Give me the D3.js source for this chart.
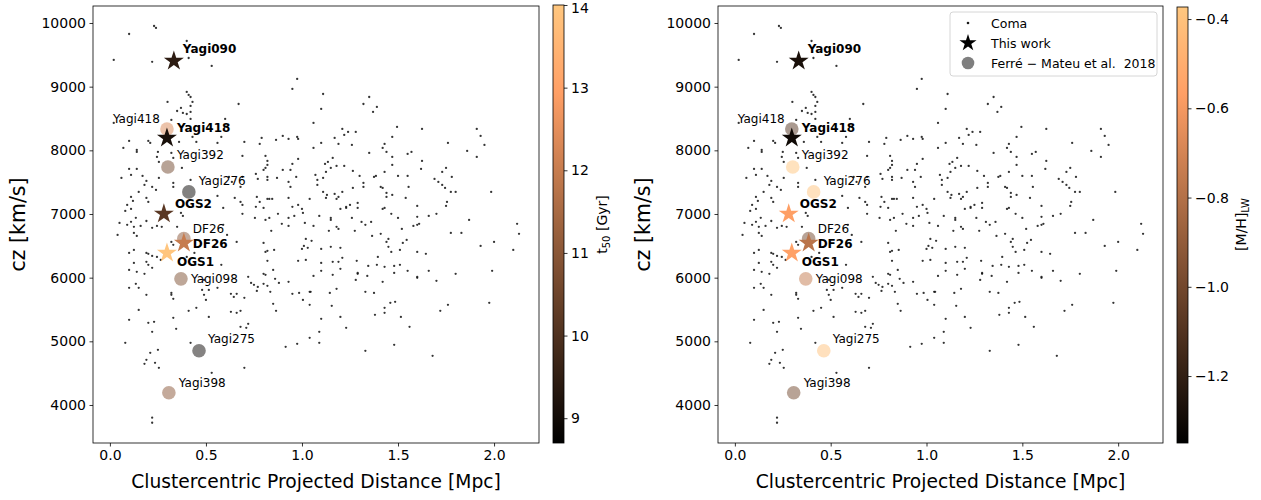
<!DOCTYPE html>
<html>
<head>
<meta charset="utf-8">
<script src="https://cdn.jsdelivr.net/npm/d3@7"></script>
<style>
  body { margin: 0; background: #fff; }
  text { font-family: "DejaVu Sans", sans-serif; }
</style>
</head>
<body>
<script>
// Coma members: [projected distance (Mpc), cz (km/s)]
const comaPoints = [
  [0.23,9953],[0.24,9922],[0.10,9827],[0.02,9420],[0.22,9390],[0.40,9717],[0.41,9450],[0.53,9325],
  [0.40,8917],[0.41,8870],[0.42,8838],[0.43,8760],[0.42,8697],[0.30,8760],[0.67,8728],
  [0.35,8618],[0.37,8666],[0.38,8587],[0.40,8571],[0.42,8603],[0.32,8477],[0.42,8493],[0.60,8493],[0.02,8430],[0.61,8367],
  [0.10,8148],[0.14,8006],[0.14,7975],[0.07,8038],[0.20,8148],[0.21,8116],[0.36,8132],[0.43,8210],[0.45,8132],[0.58,8210],[0.56,8116],
  [0.25,7975],[0.245,7896],[0.255,7818],[0.32,7959],[0.33,7880],[0.375,7724],[0.10,7708],[0.14,7708],[0.06,7567],[0.11,7614],
  [0.17,7598],[0.19,7520],[0.18,7457],[0.255,7567],[0.33,7488],[0.33,7425],[0.22,7425],[0.24,7378],[0.42,7535],[0.62,7582],[0.635,7504],[0.69,7582],[0.68,7425],
  [0.15,7347],[0.09,7143],[0.11,7268],[0.12,7206],[0.19,7253],[0.20,7190],[0.08,7049],[0.11,7080],[0.37,7017],[0.38,6970],[0.56,7284],
  [0.65,7253],[0.68,7190],[0.69,7143],[0.59,7096],[0.135,6940],[0.19,6890],
  [0.05,6860],[0.09,6830],[0.11,6877],[0.125,6798],[0.16,6813],[0.22,6782],[0.245,6813],[0.27,6798],
  [0.04,6672],[0.125,6703],[0.14,6656],[0.35,6798],[0.59,6830],[0.61,6672],[0.66,6562],[0.32,6562],[0.33,6515],
  [0.10,6389],[0.125,6436],[0.19,6389],[0.20,6374],[0.22,6342],[0.125,6232],[0.19,6248],[0.20,6201],[0.22,6154],
  [0.10,6122],[0.14,6091],[0.18,6060],[0.245,6326],[0.265,6279],[0.40,6326],[0.44,6389],[0.58,6201],
  [0.72,6013],[0.735,5918],[0.75,5887],[0.10,5840],[0.135,5903],[0.15,5840],[0.19,5730],[0.32,5761],[0.32,5730],[0.33,5667],
  [0.48,5808],[0.49,5730],[0.50,5651],[0.49,5965],[0.515,5808],[0.56,5840],[0.63,5746],[0.645,5698],[0.66,5746],[0.70,5683],
  [0.15,5494],[0.41,5479],[0.45,5526],[0.63,5463],[0.66,5447],[0.68,5479],[0.515,5384],[0.33,5369],[0.10,5337],[0.20,5290],[0.23,5306],
  [0.22,5149],[0.345,5196],[0.68,5228],[0.71,5212],[0.72,5275],[0.08,4976],[0.42,4976],[0.21,4819],[0.25,4867],
  [0.19,4710],[0.18,4647],[0.235,4663],[0.255,4584],[0.70,4584],[0.53,4505],[0.22,3800],[0.22,3721],
  [0.975,9121],[0.95,8964],[1.11,8885],[1.10,8650],[1.35,8838],[1.32,8728],[1.39,8681],[1.37,8603],[1.06,8430],
  [1.21,8336],[1.24,8289],[1.28,8289],[1.22,8242],[0.70,8132],[0.78,8100],[0.79,8195],[0.865,8163],[0.90,8226],[0.93,8179],
  [0.975,8210],[0.98,8179],[1.17,8195],[1.10,8116],[1.06,8038],[1.19,8100],[1.26,8085],[1.43,8100],[1.42,8038],[1.44,7975],
  [0.69,7912],[0.81,7912],[0.82,7834],[0.82,7771],[0.81,7724],[0.80,7692],[0.98,7865],[0.95,7787],[0.94,7692],[0.90,7692],
  [1.16,7880],[1.135,7818],[1.12,7787],[1.15,7724],[1.125,7661],[1.18,7755],[1.22,7755],[1.265,7676],[1.35,7959],[1.43,7661],
  [0.76,7630],[0.77,7551],[0.82,7582],[0.82,7535],[0.87,7567],[0.93,7504],[0.94,7425],[0.97,7582],
  [1.07,7614],[1.08,7535],[1.08,7457],[1.11,7567],[1.30,7598],[1.32,7488],[1.32,7425],[1.375,7582],[1.385,7598],
  [1.265,7410],[1.41,7425],[1.42,7410],[1.44,7268],[1.44,7331],
  [1.11,7347],[1.13,7300],[1.125,7253],[1.17,7316],[1.19,7268],[1.18,7237],[1.21,7347],
  [1.25,7143],[1.23,7096],[1.29,7174],[1.29,7096],[1.04,7237],[0.93,7253],
  [0.765,7268],[0.82,7237],[0.83,7237],[0.845,7237],[0.76,7112],[0.78,7190],[0.80,7096],
  [0.95,7112],[0.98,7143],[1.00,7080],[1.42,7080],[1.43,7096],
  [0.69,7002],[0.755,6939],[0.81,6907],[0.83,6939],[0.875,7002],[0.93,6939],[0.96,6970],[1.005,7017],
  [1.09,6970],[1.15,6939],[1.15,6907],[1.20,7080],[1.23,7112],[1.26,6939],[1.31,6876],[1.36,6876],
  [1.495,8367],[1.625,8336],[1.91,8336],[1.93,8226],[1.95,8085],[1.47,8210],[1.76,8116],[1.86,7991],
  [1.55,7943],[1.57,7975],[1.47,7896],[1.47,7771],[1.625,7834],[1.62,7708],[1.91,7896],[1.75,7724],[1.73,7661],[1.78,7582],
  [1.50,7598],[1.55,7598],[1.69,7551],[1.71,7504],[1.73,7457],[1.745,7410],[1.555,7425],[1.775,7347],[1.80,7347],[1.985,7347],
  [1.47,7300],[1.54,7253],[1.755,7190],[1.75,7127],[1.60,7127],[1.465,7002],[1.50,6939],[1.60,6955],[1.66,6970],[1.70,7002],[1.87,6907],
  [0.895,6845],[0.93,6813],[1.015,6860],[1.06,6813],[1.18,6798],[1.19,6766],[1.33,6830],[1.52,6766],[1.58,6813],[1.60,6830],[1.61,6845],
  [2.12,6845],[2.13,6688],[0.84,6735],[1.14,6735],[1.275,6735],[1.365,6656],[1.41,6688],[1.45,6609],[1.44,6562],[1.45,6484],[1.465,6405],
  [1.525,6546],[1.545,6593],[1.775,6703],[1.83,6703],[1.93,6499],[2.00,6562],[2.10,6436],[0.80,6546],[0.81,6405],[0.82,6421],[0.855,6436],[0.82,6264],
  [1.02,6609],[1.05,6578],[1.00,6452],[1.01,6499],[1.03,6468],[1.10,6452],[1.15,6484],[1.20,6468],[0.98,6264],[1.02,6279],[1.10,6232],[1.10,6107],
  [1.16,6248],[1.19,6248],[1.21,6311],[1.20,6138],[1.285,6264],[1.395,6326],[1.345,6185],[1.39,6201],[1.43,6170],[1.48,6185],[1.51,6201],[1.51,6436],
  [1.60,6405],[1.645,6374],[0.80,6060],[0.81,6044],[0.85,6122],[0.86,5981],[0.88,5918],[0.93,5934],[1.06,6028],[1.16,6044],[1.29,6075],[1.29,6060],[1.34,6028],[1.28,5965],
  [1.48,6075],[1.55,6107],[1.60,6013],[1.60,5997],[1.66,6107],[1.70,5950],[1.80,6060],[1.99,6107],[1.42,5934],
  [0.765,5792],[0.77,5855],[0.80,5903],[0.82,5871],[0.835,5777],
  [0.95,5746],[0.985,5761],[1.04,5777],[1.045,5777],[1.005,5651],[1.04,5573],[0.85,5589],[0.865,5479],[1.145,5761],[1.18,5824],[1.155,5557],
  [1.33,5777],[1.375,5761],[1.46,5604],[1.485,5620],[1.43,5526],[1.43,5447],[1.38,5416],[1.515,5384],[1.56,5228],[1.72,5479],[1.76,5573],[1.975,5604],
  [1.10,5353],[1.20,5384],[1.23,5212],[1.09,5149],[1.04,5055],[1.09,4976],[0.915,4914],[0.975,4961],[1.33,4851],[1.48,4945],[1.68,4772]
];

// This work (stars)
const starNames = ["Yagi090", "Yagi418", "OGS2", "DF26", "OGS1"];
const starR     = [0.333, 0.297, 0.281, 0.385, 0.297];
const starCz    = [9403, 8195, 7002, 6546, 6389];
const starT50   = [9.44, 9.12, 10.2, 12.0, 13.95];
const starMH    = [-1.27, -1.30, -0.57, -0.78, -0.56];

// Ferre-Mateu et al. 2018 (circles)
const fmNames = ["Yagi418", "Yagi392", "Yagi276", "DF26", "Yagi098", "Yagi275", "Yagi398"];
const fmR     = [0.297, 0.302, 0.411, 0.385, 0.370, 0.464, 0.307];
const fmCz    = [8336, 7739, 7347, 6615, 5981, 4851, 4192];
const fmT50   = [12.3, 10.6, 8.8, 11.0, 10.8, 8.9, 11.0];
const fmMH    = [-1.09, -0.38, -0.39, -1.0, -0.75, -0.40, -1.0];

const xTicks = [0, 0.5, 1.0, 1.5, 2.0];
const yTicks = [4000, 5000, 6000, 7000, 8000, 9000, 10000];
const t50Ticks = [9, 10, 11, 12, 13, 14];
const mhTicks = [-1.2, -1.0, -0.8, -0.6, -0.4];

// label offsets in px (style only)
const starLabelOff = [[9, -8], [10, -6], [11, -6], [9, 5], [10, 13]];
const fmLabelOff = [[-54, -6], [9, -8], [10, -7], [9, -6], [10, 4], [9, -8], [10, -6]];

const W = 1261, H = 500;
const plotTop = 6, plotBottom = 443;
const xDomain = [-0.088, 2.234], yDomain = [3403, 10267];

const svg = d3.select("body").append("svg").attr("width", W).attr("height", H);

function copper(t) {
  t = Math.max(0, Math.min(1, t));
  return d3.rgb(255 * Math.min(1, 1.25 * t), 255 * 0.7812 * t, 255 * 0.4975 * t).formatHex();
}

function starPath(R) {
  const r = R * 0.382;
  const pts = [];
  for (let k = 0; k < 10; k++) {
    const a = -Math.PI / 2 + k * Math.PI / 5;
    const rr = k % 2 === 0 ? R : r;
    pts.push([rr * Math.cos(a), rr * Math.sin(a)]);
  }
  return "M" + pts.map(p => p[0].toFixed(2) + "," + p[1].toFixed(2)).join("L") + "Z";
}

const defs = svg.append("defs");

function styleAxis(sel) {
  sel.selectAll("text").attr("font-size", 14).attr("fill", "#000").attr("font-family", "DejaVu Sans");
  sel.selectAll("line").attr("stroke", "#000").attr("stroke-width", 0.8);
  sel.select(".domain").remove();
}

function drawPanel(p) {
  const x = d3.scaleLinear().domain(xDomain).range([p.left, p.right]);
  const y = d3.scaleLinear().domain(yDomain).range([plotBottom, plotTop]);
  const norm = d3.scaleLinear().domain(p.cDomain).range([0, 1]);
  const g = svg.append("g");

  g.append("g").selectAll("circle").data(comaPoints).join("circle")
    .attr("cx", d => x(d[0])).attr("cy", d => y(d[1]))
    .attr("r", 1.15).attr("fill", "#111").attr("fill-opacity", 0.85);

  g.append("g").selectAll("circle").data(fmNames).join("circle")
    .attr("cx", (d, i) => x(fmR[i])).attr("cy", (d, i) => y(fmCz[i]))
    .attr("r", 6.8)
    .attr("fill", (d, i) => copper(norm(p.fmVal[i])))
    .attr("fill-opacity", 0.5);

  g.append("g").selectAll("path").data(starNames).join("path")
    .attr("d", starPath(10.5))
    .attr("transform", (d, i) => `translate(${x(starR[i])},${y(starCz[i])})`)
    .attr("fill", (d, i) => copper(norm(p.starVal[i])));

  g.append("g").selectAll("text").data(fmNames).join("text")
    .attr("x", (d, i) => x(fmR[i]) + fmLabelOff[i][0])
    .attr("y", (d, i) => y(fmCz[i]) + fmLabelOff[i][1])
    .attr("font-size", 12).attr("fill", "#000")
    .text(d => d);

  g.append("g").selectAll("text").data(starNames).join("text")
    .attr("x", (d, i) => x(starR[i]) + starLabelOff[i][0])
    .attr("y", (d, i) => y(starCz[i]) + starLabelOff[i][1])
    .attr("font-size", 12).attr("font-weight", "bold").attr("fill", "#000")
    .text(d => d);

  // frame
  g.append("rect").attr("x", p.left).attr("y", plotTop)
    .attr("width", p.right - p.left).attr("height", plotBottom - plotTop)
    .attr("fill", "none").attr("stroke", "#000").attr("stroke-width", 0.8);

  g.append("g").attr("transform", `translate(0,${plotBottom})`)
    .call(d3.axisBottom(x).tickValues(xTicks).tickFormat(d3.format(".1f"))
      .tickSize(3.5).tickPadding(3.5).tickSizeOuter(0))
    .call(styleAxis);
  g.append("g").attr("transform", `translate(${p.left},0)`)
    .call(d3.axisLeft(y).tickValues(yTicks).tickFormat(d3.format("d"))
      .tickSize(3.5).tickPadding(3.5).tickSizeOuter(0))
    .call(styleAxis);

  g.append("text").attr("x", (p.left + p.right) / 2).attr("y", 488)
    .attr("text-anchor", "middle").attr("font-size", 18.7).attr("fill", "#000")
    .text("Clustercentric Projected Distance [Mpc]");
  g.append("text").attr("transform", `translate(${p.left - 68},${(plotTop + plotBottom) / 2}) rotate(-90)`)
    .attr("text-anchor", "middle").attr("font-size", 20.5).attr("fill", "#000")
    .text("cz [km/s]");

  // colorbar
  const cy = d3.scaleLinear().domain(p.cDomain).range([plotBottom, p.cbTop]);
  const gid = "grad" + p.id;
  const grad = defs.append("linearGradient").attr("id", gid)
    .attr("x1", 0).attr("y1", 1).attr("x2", 0).attr("y2", 0);
  const stops = d3.range(0, 1.0001, 0.05).concat([0.8]).sort((a, b) => a - b);
  grad.selectAll("stop").data(stops).join("stop")
    .attr("offset", d => d).attr("stop-color", d => copper(d));
  g.append("rect").attr("x", p.cbLeft).attr("y", p.cbTop)
    .attr("width", p.cbW).attr("height", plotBottom - p.cbTop)
    .attr("fill", `url(#${gid})`).attr("stroke", "#000").attr("stroke-width", 0.8);
  const cax = g.append("g").attr("transform", `translate(${p.cbLeft + p.cbW},0)`)
    .call(d3.axisRight(cy).tickValues(p.cTicks).tickFormat(p.cFormat)
      .tickSize(3.5).tickPadding(3.5).tickSizeOuter(0))
    .call(styleAxis);
  // keep the top tick label inside the page
  cax.selectAll(".tick text").attr("dy", d => cy(d) < 10 ? "0.5em" : "0.32em");

  const lab = g.append("text")
    .attr("transform", `translate(${p.cbLabelX},${(plotTop + plotBottom) / 2}) rotate(-90)`)
    .attr("text-anchor", "middle").attr("font-size", 14).attr("fill", "#000");
  lab.append("tspan").text(p.cbLabel[0]);
  lab.append("tspan").attr("font-size", 10).attr("dy", 3).text(p.cbLabel[1]);
  lab.append("tspan").attr("dy", -3).text(p.cbLabel[2]);
}

drawPanel({
  id: 0, left: 93, right: 539, cbLeft: 553, cbW: 11, cbTop: 5,
  cDomain: [8.7, 14.0], cTicks: t50Ticks, cFormat: d3.format("d"),
  fmVal: fmT50, starVal: starT50, cbLabelX: 607, cbLabel: ["t", "50", " [Gyr]"]
});
drawPanel({
  id: 1, left: 718, right: 1163, cbLeft: 1177, cbW: 11, cbTop: 7,
  cDomain: [-1.35, -0.373], cTicks: mhTicks, cFormat: d3.format(".1f"),
  fmVal: fmMH, starVal: starMH, cbLabelX: 1246, cbLabel: ["[M/H]", "LW", ""]
});

// legend (right panel)
const leg = svg.append("g");
leg.append("rect").attr("x", 950).attr("y", 12).attr("width", 207).attr("height", 64)
  .attr("rx", 3).attr("fill", "#fff").attr("fill-opacity", 0.8)
  .attr("stroke", "#ccc").attr("stroke-width", 0.8);
const legItems = ["Coma", "This work", "Ferré − Mateu et al.  2018"];
legItems.forEach((t, i) => {
  const yy = 23 + i * 20;
  if (i === 0) leg.append("circle").attr("cx", 968).attr("cy", yy).attr("r", 1.3).attr("fill", "#1a1a1a");
  if (i === 1) leg.append("path").attr("d", starPath(9)).attr("transform", `translate(968,${yy})`).attr("fill", "#000");
  if (i === 2) leg.append("circle").attr("cx", 968).attr("cy", yy).attr("r", 6.3).attr("fill", "#000").attr("fill-opacity", 0.5);
  leg.append("text").attr("x", 991).attr("y", yy + 4.5).attr("font-size", 12.5)
    .attr("fill", "#000").style("white-space", "pre").text(t);
});
</script>
</body>
</html>
